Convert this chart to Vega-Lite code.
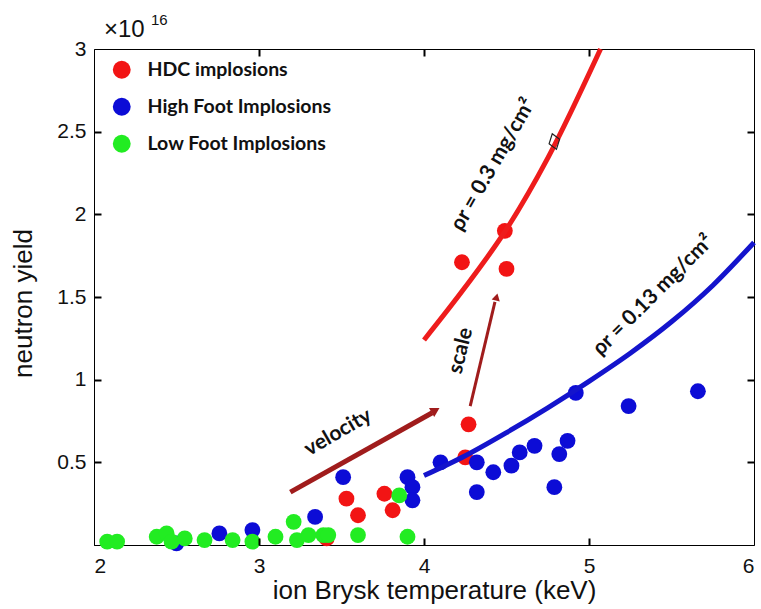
{
  "$schema": "https://vega.github.io/schema/vega-lite/v6.json",
  "width": 660,
  "height": 496,
  "autosize": {"type": "none"},
  "padding": {"left": 94, "top": 49, "right": 7, "bottom": 64},
  "background": "white",
  "config": {
    "view": {"stroke": "black", "strokeWidth": 1},
    "axis": {
      "grid": false,
      "domainColor": "black",
      "tickColor": "black",
      "tickWidth": 1.2,
      "labelColor": "#111111",
      "titleColor": "#111111",
      "labelFont": "Liberation Sans",
      "titleFont": "Liberation Sans",
      "labelFontSize": 21,
      "titleFontSize": 26,
      "titleFontWeight": "normal"
    }
  },
  "datasets": {
    "shots": [
      {"series": "HDC implosions", "T": 4.23, "Y": 1.71},
      {"series": "HDC implosions", "T": 4.49, "Y": 1.90},
      {"series": "HDC implosions", "T": 4.50, "Y": 1.67},
      {"series": "HDC implosions", "T": 4.27, "Y": 0.73},
      {"series": "HDC implosions", "T": 4.25, "Y": 0.53},
      {"series": "HDC implosions", "T": 3.53, "Y": 0.28},
      {"series": "HDC implosions", "T": 3.60, "Y": 0.18},
      {"series": "HDC implosions", "T": 3.76, "Y": 0.31},
      {"series": "HDC implosions", "T": 3.81, "Y": 0.21},
      {"series": "HDC implosions", "T": 3.41, "Y": 0.04},
      {"series": "High Foot Implosions", "T": 2.50, "Y": 0.01},
      {"series": "High Foot Implosions", "T": 2.76, "Y": 0.07},
      {"series": "High Foot Implosions", "T": 2.96, "Y": 0.09},
      {"series": "High Foot Implosions", "T": 3.34, "Y": 0.17},
      {"series": "High Foot Implosions", "T": 3.51, "Y": 0.41},
      {"series": "High Foot Implosions", "T": 3.90, "Y": 0.41},
      {"series": "High Foot Implosions", "T": 3.93, "Y": 0.35},
      {"series": "High Foot Implosions", "T": 3.93, "Y": 0.27},
      {"series": "High Foot Implosions", "T": 4.10, "Y": 0.50},
      {"series": "High Foot Implosions", "T": 4.32, "Y": 0.50},
      {"series": "High Foot Implosions", "T": 4.42, "Y": 0.44},
      {"series": "High Foot Implosions", "T": 4.32, "Y": 0.32},
      {"series": "High Foot Implosions", "T": 4.53, "Y": 0.48},
      {"series": "High Foot Implosions", "T": 4.58, "Y": 0.56},
      {"series": "High Foot Implosions", "T": 4.67, "Y": 0.60},
      {"series": "High Foot Implosions", "T": 4.82, "Y": 0.55},
      {"series": "High Foot Implosions", "T": 4.87, "Y": 0.63},
      {"series": "High Foot Implosions", "T": 4.79, "Y": 0.35},
      {"series": "High Foot Implosions", "T": 4.92, "Y": 0.92},
      {"series": "High Foot Implosions", "T": 5.24, "Y": 0.84},
      {"series": "High Foot Implosions", "T": 5.66, "Y": 0.93},
      {"series": "Low Foot Implosions", "T": 2.08, "Y": 0.02},
      {"series": "Low Foot Implosions", "T": 2.14, "Y": 0.02},
      {"series": "Low Foot Implosions", "T": 2.38, "Y": 0.05},
      {"series": "Low Foot Implosions", "T": 2.44, "Y": 0.07},
      {"series": "Low Foot Implosions", "T": 2.47, "Y": 0.02},
      {"series": "Low Foot Implosions", "T": 2.55, "Y": 0.04},
      {"series": "Low Foot Implosions", "T": 2.67, "Y": 0.03},
      {"series": "Low Foot Implosions", "T": 2.84, "Y": 0.03},
      {"series": "Low Foot Implosions", "T": 2.96, "Y": 0.02},
      {"series": "Low Foot Implosions", "T": 3.10, "Y": 0.05},
      {"series": "Low Foot Implosions", "T": 3.21, "Y": 0.14},
      {"series": "Low Foot Implosions", "T": 3.23, "Y": 0.03},
      {"series": "Low Foot Implosions", "T": 3.30, "Y": 0.06},
      {"series": "Low Foot Implosions", "T": 3.39, "Y": 0.06},
      {"series": "Low Foot Implosions", "T": 3.42, "Y": 0.06},
      {"series": "Low Foot Implosions", "T": 3.60, "Y": 0.06},
      {"series": "Low Foot Implosions", "T": 3.85, "Y": 0.30},
      {"series": "Low Foot Implosions", "T": 3.90, "Y": 0.05}
    ],
    "fits": [
      {"fit": "0.3", "T": 4.00, "Y": 1.24},
      {"fit": "0.3", "T": 4.25, "Y": 1.56},
      {"fit": "0.3", "T": 4.50, "Y": 1.91},
      {"fit": "0.3", "T": 4.75, "Y": 2.34},
      {"fit": "0.3", "T": 5.07, "Y": 3.00},
      {"fit": "0.13", "T": 4.00, "Y": 0.42},
      {"fit": "0.13", "T": 4.25, "Y": 0.54},
      {"fit": "0.13", "T": 4.50, "Y": 0.68},
      {"fit": "0.13", "T": 4.75, "Y": 0.83},
      {"fit": "0.13", "T": 5.00, "Y": 0.99},
      {"fit": "0.13", "T": 5.25, "Y": 1.16},
      {"fit": "0.13", "T": 5.50, "Y": 1.35},
      {"fit": "0.13", "T": 5.75, "Y": 1.57},
      {"fit": "0.13", "T": 6.00, "Y": 1.83}
    ],
    "arrows": [
      {"arrow": "velocity", "T": 3.19, "Y": 0.32, "T2": 4.05, "Y2": 0.80, "headT": 4.07, "headY": 0.815},
      {"arrow": "scale", "T": 4.28, "Y": 0.84, "T2": 4.43, "Y2": 1.47, "headT": 4.44, "headY": 1.50}
    ],
    "notes": [
      {"note": "velocity", "T": 3.48, "Y": 0.68},
      {"note": "scale", "T": 4.224, "Y": 1.175},
      {"note": "ρr = 0.3 mg/cm²", "T": 4.42, "Y": 2.30},
      {"note": "ρr = 0.13 mg/cm²", "T": 5.39, "Y": 1.51},
      {"note": "marker", "T": 4.79, "Y": 2.44},
      {"note": "×10", "T": 2, "Y": 3},
      {"note": "16", "T": 2, "Y": 3}
    ]
  },
  "layer": [
    {
      "data": {"name": "shots"},
      "mark": {"type": "point", "filled": true, "opacity": 1, "size": 250},
      "encoding": {
        "x": {
          "field": "T", "type": "quantitative",
          "scale": {"domain": [2, 6], "nice": false, "zero": false},
          "axis": {"orient": "bottom", "values": [2, 3, 4, 5, 6], "format": "d", "ticks": false, "labelPadding": 10,
                   "title": "ion Brysk temperature (keV)", "titleX": 340, "titleY": 53, "titleBaseline": "alphabetic"}
        },
        "y": {
          "field": "Y", "type": "quantitative",
          "scale": {"domain": [0, 3], "nice": false, "zero": false},
          "axis": {"orient": "left", "values": [0, 0.5, 1, 1.5, 2, 2.5, 3], "format": "~g", "ticks": false,
                   "labelExpr": "datum.value === 0 ? '' : datum.label", "labelPadding": 8,
                   "title": "neutron yield", "titleX": -63, "titleY": 254, "titleBaseline": "alphabetic"}
        },
        "color": {
          "field": "series", "type": "nominal",
          "scale": {"domain": ["HDC implosions", "High Foot Implosions", "Low Foot Implosions"],
                    "range": ["#f21414", "#0c0cd6", "#22ec22"]},
          "legend": {
            "orient": "none", "legendX": 18, "legendY": 11, "padding": 0, "title": null,
            "symbolType": "circle", "symbolSize": 320, "symbolStrokeWidth": 0,
            "labelFont": "Lato", "labelFontWeight": "bold", "labelFontSize": 19.5, "labelColor": "#111111",
            "labelLimit": 400, "labelOffset": 16, "rowPadding": 16,
            "encode": {"symbols": {"update": {"fill": {"signal": "datum.label === 'HDC implosions' ? '#ee1212' : datum.label === 'High Foot Implosions' ? '#4a70c4' : '#7ec84a'"}, "opacity": {"value": 1}}}}
          }
        }
      }
    },
    {
      "data": {"name": "fits"},
      "mark": {"type": "line", "interpolate": "monotone", "strokeWidth": 5},
      "encoding": {
        "x": {"field": "T", "type": "quantitative", "scale": {"domain": [2, 6], "nice": false, "zero": false},
              "axis": {"orient": "bottom", "offset": -496, "values": [3, 4, 5], "labels": false, "domain": false, "ticks": true, "tickSize": 7, "tickWidth": 2, "tickColor": "#000000", "title": null, "zindex": 2}},
        "y": {"field": "Y", "type": "quantitative", "scale": {"domain": [0, 3], "nice": false, "zero": false},
              "axis": {"orient": "left", "offset": -660, "values": [0.5, 1, 1.5, 2, 2.5], "labels": false, "domain": false, "ticks": true, "tickSize": 7, "tickWidth": 2, "tickColor": "#000000", "title": null, "zindex": 2}},
        "detail": {"field": "fit"},
        "stroke": {
          "field": "fit", "type": "nominal",
          "scale": {"domain": ["0.3", "0.13"], "range": ["#ee1c1c", "#1414cc"]},
          "legend": null
        }
      }
    },
    {
      "data": {"name": "arrows"},
      "transform": [{"filter": "datum.arrow === 'velocity'"}],
      "mark": {"type": "rule", "color": "#a01c1c", "strokeWidth": 5},
      "encoding": {
        "x": {"field": "T", "type": "quantitative", "axis": null},
        "y": {"field": "Y", "type": "quantitative", "axis": null},
        "x2": {"field": "T2"},
        "y2": {"field": "Y2"}
      }
    },
    {
      "data": {"name": "arrows"},
      "transform": [{"filter": "datum.arrow === 'velocity'"}],
      "mark": {"type": "point", "shape": "triangle-up", "filled": true, "color": "#a01c1c", "opacity": 1, "size": 110, "angle": 60},
      "encoding": {
        "x": {"field": "headT", "type": "quantitative", "axis": null},
        "y": {"field": "headY", "type": "quantitative", "axis": null}
      }
    },
    {
      "data": {"name": "arrows"},
      "transform": [{"filter": "datum.arrow === 'scale'"}],
      "mark": {"type": "rule", "color": "#a01c1c", "strokeWidth": 3},
      "encoding": {
        "x": {"field": "T", "type": "quantitative", "axis": null},
        "y": {"field": "Y", "type": "quantitative", "axis": null},
        "x2": {"field": "T2"},
        "y2": {"field": "Y2"}
      }
    },
    {
      "data": {"name": "arrows"},
      "transform": [{"filter": "datum.arrow === 'scale'"}],
      "mark": {"type": "point", "shape": "triangle-up", "filled": true, "color": "#a01c1c", "opacity": 1, "size": 70, "angle": 14},
      "encoding": {
        "x": {"field": "headT", "type": "quantitative", "axis": null},
        "y": {"field": "headY", "type": "quantitative", "axis": null}
      }
    },
    {
      "data": {"name": "notes"},
      "transform": [{"filter": "datum.note === 'marker'"}],
      "mark": {"type": "point", "shape": "M0,-1L0.7,-0.1L0,1L-0.7,0.1Z", "filled": false, "color": "#222222", "strokeWidth": 1.2, "opacity": 1, "size": 260, "angle": -15},
      "encoding": {
        "x": {"field": "T", "type": "quantitative", "scale": {"domain": [2, 6], "nice": false, "zero": false},
              "axis": {"orient": "top", "offset": -496, "values": [3, 4, 5], "labels": false, "domain": false, "ticks": true, "tickSize": 7, "tickWidth": 2, "tickColor": "#000000", "title": null, "zindex": 2}},
        "y": {"field": "Y", "type": "quantitative", "scale": {"domain": [0, 3], "nice": false, "zero": false},
              "axis": {"orient": "right", "offset": -660, "values": [0.5, 1, 1.5, 2, 2.5], "labels": false, "domain": false, "ticks": true, "tickSize": 7, "tickWidth": 2, "tickColor": "#000000", "title": null, "zindex": 2}}
      }
    },
    {
      "data": {"name": "notes"},
      "transform": [{"filter": "datum.note === 'velocity'"}],
      "mark": {"type": "text", "font": "Lato", "fontWeight": "bold", "fontSize": 21, "color": "#111111", "angle": -30, "align": "center", "baseline": "middle"},
      "encoding": {"x": {"field": "T", "type": "quantitative", "axis": null}, "y": {"field": "Y", "type": "quantitative", "axis": null}, "text": {"field": "note"}}
    },
    {
      "data": {"name": "notes"},
      "transform": [{"filter": "datum.note === 'scale'"}],
      "mark": {"type": "text", "font": "Lato", "fontWeight": "bold", "fontSize": 21, "color": "#111111", "angle": -76, "align": "center", "baseline": "middle"},
      "encoding": {"x": {"field": "T", "type": "quantitative", "axis": null}, "y": {"field": "Y", "type": "quantitative", "axis": null}, "text": {"field": "note"}}
    },
    {
      "data": {"name": "notes"},
      "transform": [{"filter": "datum.note === 'ρr = 0.3 mg/cm²'"}],
      "mark": {"type": "text", "font": "Lato", "fontWeight": "bold", "fontSize": 21, "color": "#111111", "angle": -60, "align": "center", "baseline": "middle"},
      "encoding": {"x": {"field": "T", "type": "quantitative", "axis": null}, "y": {"field": "Y", "type": "quantitative", "axis": null}, "text": {"field": "note"}}
    },
    {
      "data": {"name": "notes"},
      "transform": [{"filter": "datum.note === 'ρr = 0.13 mg/cm²'"}],
      "mark": {"type": "text", "font": "Lato", "fontWeight": "bold", "fontSize": 21, "color": "#111111", "angle": -45, "align": "center", "baseline": "middle"},
      "encoding": {"x": {"field": "T", "type": "quantitative", "axis": null}, "y": {"field": "Y", "type": "quantitative", "axis": null}, "text": {"field": "note"}}
    },
    {
      "data": {"name": "notes"},
      "transform": [{"filter": "datum.note === '×10'"}],
      "mark": {"type": "text", "font": "Liberation Sans", "fontSize": 24, "color": "#111111", "align": "left", "baseline": "alphabetic", "dx": 10, "dy": -12},
      "encoding": {"x": {"field": "T", "type": "quantitative", "axis": null}, "y": {"field": "Y", "type": "quantitative", "axis": null}, "text": {"field": "note"}}
    },
    {
      "data": {"name": "notes"},
      "transform": [{"filter": "datum.note === '16'"}],
      "mark": {"type": "text", "font": "Liberation Sans", "fontSize": 15, "color": "#111111", "align": "left", "baseline": "alphabetic", "dx": 57, "dy": -24},
      "encoding": {"x": {"field": "T", "type": "quantitative", "axis": null}, "y": {"field": "Y", "type": "quantitative", "axis": null}, "text": {"field": "note"}}
    }
  ],
  "resolve": {"axis": {"x": "independent", "y": "independent"}}
}
